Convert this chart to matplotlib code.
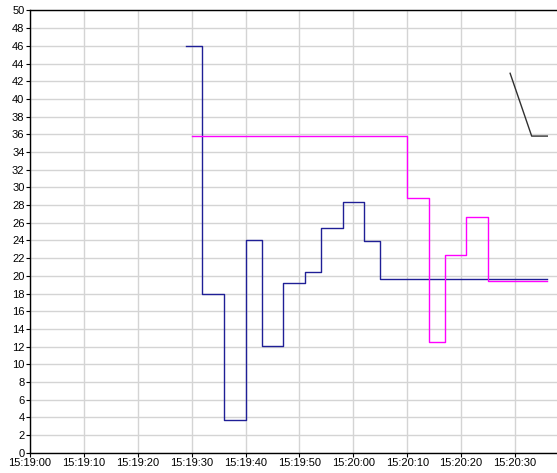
import matplotlib
matplotlib.use("Agg")
import matplotlib.pyplot as plt
from matplotlib.ticker import FuncFormatter, MultipleLocator

# seconds after 15:19:00 where each step starts, and the value held from there
blue_t = [29, 32, 36, 40, 43, 47, 51, 54, 58, 62, 65, 96]
blue_v = [46, 18, 3.7, 24, 12.1, 19.2, 20.4, 25.4, 28.3, 23.9, 19.6, 19.6]

pink_t = [30, 70, 74, 77, 81, 85, 96]
pink_v = [35.8, 28.8, 12.5, 22.3, 26.7, 19.4, 19.4]

black_t = [89.1, 93.1, 96]
black_v = [42.9, 35.8, 35.8]

plt.rcParams["font.family"] = ["Liberation Sans", "DejaVu Sans"]

fig = plt.figure(figsize=(5.57, 4.73), dpi=100)
ax = fig.add_axes([30 / 557, 20.3 / 473, 527 / 557, 442.2 / 473])

ax.step(blue_t, blue_v, where="post", color="#1f1f96", lw=1.0)
ax.step(pink_t, pink_v, where="post", color="#ff00ff", lw=1.0)
ax.plot(black_t, black_v, color="#303030", lw=1.0)

ax.set_xlim(0, 97.8)
ax.set_ylim(0, 50)
ax.xaxis.set_major_locator(MultipleLocator(10))
ax.yaxis.set_major_locator(MultipleLocator(2))


def hms(x, pos):
    s = int(round(x))
    return "15:%02d:%02d" % (19 + s // 60, s % 60)


ax.xaxis.set_major_formatter(FuncFormatter(hms))
ax.grid(True, color="#d4d4d4", lw=1.0)
ax.set_axisbelow(True)
ax.spines["right"].set_visible(False)
for side in ("left", "bottom", "top"):
    ax.spines[side].set_color("black")
    ax.spines[side].set_linewidth(1.0)
ax.tick_params(labelsize=8, length=3, width=0.8, pad=1)

fig.savefig("out.png", dpi=100)
